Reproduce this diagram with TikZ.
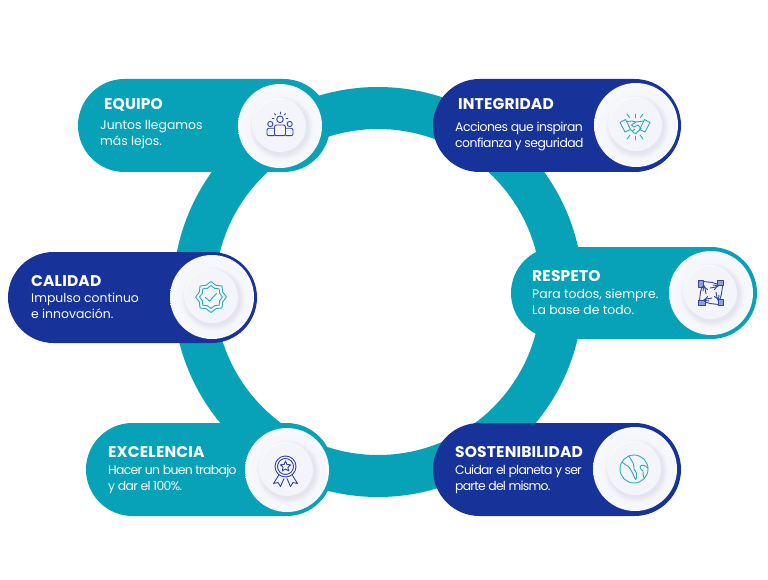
\documentclass[tikz,border=0pt]{standalone}
\usepackage{fontspec}
\setmainfont{Poppins}
\usetikzlibrary{shapes.misc, shapes.geometric}
\definecolor{tealband}{HTML}{08A2B8}
\definecolor{navyband}{HTML}{17339A}
\definecolor{platerim}{HTML}{F8F9FC}
\definecolor{platecore}{HTML}{EFF0F7}
\definecolor{discface}{HTML}{F4F5FA}
\definecolor{discshade}{HTML}{C4C7DE}
\definecolor{iconteal}{HTML}{2BABBB}
\definecolor{iconnavy}{HTML}{34459F}
\definecolor{cufffill}{HTML}{8FA0D8}
\tikzset{
	card/.style={rounded rectangle, minimum height=#1, inner sep=0pt, outer sep=0pt},
	card/.default=93pt,
	plate/.style={circle, minimum size=84pt, inner sep=0pt, inner color=platecore, outer color=platerim},
	disc/.style={circle, minimum size=52pt, inner sep=0pt, fill=discface},
	heading/.style={anchor=base west, inner sep=0pt, text=white, font=\fontsize{15.5}{16}\selectfont\bfseries\addfontfeature{LetterSpace=1}},
	blurb/.style={anchor=west, inner sep=0pt, align=left, text=white, font=\fontsize{12.4}{16}\selectfont\addfontfeature{LetterSpace=#1}},
	blurb/.default=0,
	stroke/.style={line width=.9pt, line join=round, line cap=round},
	pics/dish/.style={code={
		\node[plate] (-rim) at (0,0) {};
		\foreach \k in {1,...,6}
			\fill[discshade, opacity=.06] (1.4,2) circle (26+\k*.9);
		\fill[white, opacity=.6] (-1.5,-1.8) circle (26.5);
		\node[disc] (-face) at (0,0) {};
	}}
}
\begin{document}
\begin{tikzpicture}[x=1pt, y=-1pt]
	\useasboundingbox (0,0) rectangle (768,580);

	% Ring
	\draw[tealband, line width=42pt] (378,292) circle (184);

	% Cards
	\node[card, minimum width=252pt, fill=tealband] (equipo) at (204,125.5) {};
	\node[card, minimum width=248pt, fill=navyband] (integridad) at (557,125.5) {};
	\node[card=91pt, minimum width=249pt, fill=navyband] (calidad) at (132.5,297.5) {};
	\node[card=92pt, minimum width=246pt, fill=tealband] (respeto) at (634,293) {};
	\node[card, minimum width=247pt, fill=tealband] (excelencia) at (209.5,469.5) {};
	\node[card, minimum width=248pt, fill=navyband] (sostenibilidad) at (557,469.5) {};

	% Plates
	\pic (dishA) at (280,126) {dish};
	\pic (dishB) at (636,125) {dish};
	\pic (dishC) at (212,297) {dish};
	\pic (dishD) at (711,293) {dish};
	\pic (dishE) at (287,470) {dish};
	\pic (dishF) at (635,469) {dish};

	% Text
	\node[heading] (equipoT) at (104,110) {EQUIPO};
	\node[blurb] (equipoB) at (100,135) {Juntos llegamos\\más lejos.};
	\node[heading] (integridadT) at (458,110) {INTEGRIDAD};
	\node[blurb=-4.2] (integridadB) at (455,136) {Acciones que inspiran\\confianza y seguridad};
	\node[heading] (calidadT) at (31,286) {CALIDAD};
	\node[blurb] (calidadB) at (31,306) {Impulso continuo\\e innovación.};
	\node[heading] (respetoT) at (532,281) {RESPETO};
	\node[blurb] (respetoB) at (532,302) {Para todos, siempre.\\La base de todo.};
	\node[heading] (excelenciaT) at (108,457) {EXCELENCIA};
	\node[blurb=-5.4] (excelenciaB) at (108,479) {Hacer un buen trabajo\\y dar el 100\%.};
	\node[heading] (sostenibilidadT) at (455,457) {SOSTENIBILIDAD};
	\node[blurb=-6] (sostenibilidadB) at (455,479) {Cuidar el planeta y ser\\parte del mismo.};

	% Icon: people
	\begin{scope}[shift={(280,125)}, stroke, draw=iconnavy]
		\draw (0,-5.7) circle (3.3);
		\draw (-9.7,-1) circle (2.6);
		\draw (9.7,-1) circle (2.6);
		\draw[rounded corners=2pt] (-5.5,10.7) -- (-5.5,0) -- (5.5,0) -- (5.5,10.7) -- cycle;
		\draw[rounded corners=2pt] (-5.5,3.3) -- (-13,3.3) -- (-13,10.7) -- (-5.5,10.7);
		\draw[rounded corners=2pt] (5.5,3.3) -- (13,3.3) -- (13,10.7) -- (5.5,10.7);
		\draw (0,-11) -- (0,-13);
		\draw (-4.3,-10) -- (-5.6,-11.4);
		\draw (4.3,-10) -- (5.6,-11.4);
		\draw (-6,-6.5) -- (-7.8,-6.5);
		\draw (6,-6.5) -- (7.8,-6.5);
	\end{scope}

	% Icon: handshake
	\begin{scope}[shift={(635,126)}, stroke, draw=iconteal]
		\draw (-15,-3.5) -- (-9.5,-6.5) -- (-4.5,3.5) -- (-10,6) -- cycle;
		\draw (15,-3.5) -- (9.5,-6.5) -- (4.5,3.5) -- (10,6) -- cycle;
		\draw (-8.5,-4.5) -- (-3,-5) -- (1,-4) -- (8.5,-5);
		\draw (1,-4) -- (-3.5,-1) -- (-1,1) -- (3,-1) -- (6,2.5);
		\draw (-5,3) -- (-1,7) -- (1,7.5) -- (6,2.5);
		\draw (-2.5,5) -- (0,3);
		\draw (0,-8) -- (0,-12);
		\draw (-5.5,-8.5) -- (-8,-12);
		\draw (5.5,-8.5) -- (8,-12);
		\draw (0,10) -- (0,14);
		\draw (-5,9) -- (-8,13);
		\draw (5,9) -- (8,13);
	\end{scope}

	% Icon: badge
	\node[star, star points=8, star point ratio=1.22, minimum size=31pt, inner sep=0pt, stroke, draw=iconteal] (badgeOuter) at (211,297) {};
	\node[star, star points=8, star point ratio=1.22, minimum size=23pt, inner sep=0pt, stroke, draw=iconteal] (badgeInner) at (211,297) {};
	\draw[stroke, iconteal] (205.5,297.5) -- (209.5,301) -- (216.5,293.5);

	% Icon: hands
	\begin{scope}[shift={(711,293)}, stroke, draw=iconnavy]
		\foreach \turn in {0,90,180,270} {
			\begin{scope}[rotate=\turn]
				\filldraw[fill=cufffill] (-12.5,-12.5) rectangle (-7.5,-6);
				\draw (-7.5,-11.5) -- (1,-10.5) -- (6,-9) -- (7,-6.5) -- (2,-5.5) -- (-1,-5);
				\draw (-7.5,-6.5) -- (-3.5,-3.5);
				\draw (2,-8) -- (5.5,-7.5);
			\end{scope}
		}
	\end{scope}

	% Icon: medal
	\begin{scope}[shift={(285.5,466.5)}, stroke, draw=iconnavy]
		\draw (0,0) circle (10.5);
		\draw (0,0) circle (8);
		\draw (-7,9) -- (-12,17) -- (-7.5,16) -- (-5,20) -- (-1.5,12);
		\draw (7,9) -- (12,17) -- (7.5,16) -- (5,20) -- (1.5,12);
	\end{scope}
	\node[star, star points=5, star point ratio=2.2, minimum size=11pt, inner sep=0pt, stroke, draw=iconnavy] (medalStar) at (285.5,466.5) {};

	% Icon: globe
	\begin{scope}[shift={(634,469)}, stroke, draw=iconteal]
		\draw (0,0) circle (14);
		\draw (-12,-7) .. controls (-9,-5) and (-8,-3) .. (-6,-3) .. controls (-5,-1) and (-3,0) .. (-2,3) .. controls (0,5) and (-1,8) .. (2,10.5) .. controls (3,6) and (3,3) .. (0,0) .. controls (-1,-3) and (1,-4) .. (-1,-6) .. controls (-3,-8) and (-3,-11) .. (-5,-13);
		\draw (14,-1) .. controls (11,-4) and (7,-5) .. (6,-2) .. controls (6,0) and (8,1) .. (9,2) .. controls (9,4) and (9,7) .. (10,9);
	\end{scope}
\end{tikzpicture}
\end{document}
